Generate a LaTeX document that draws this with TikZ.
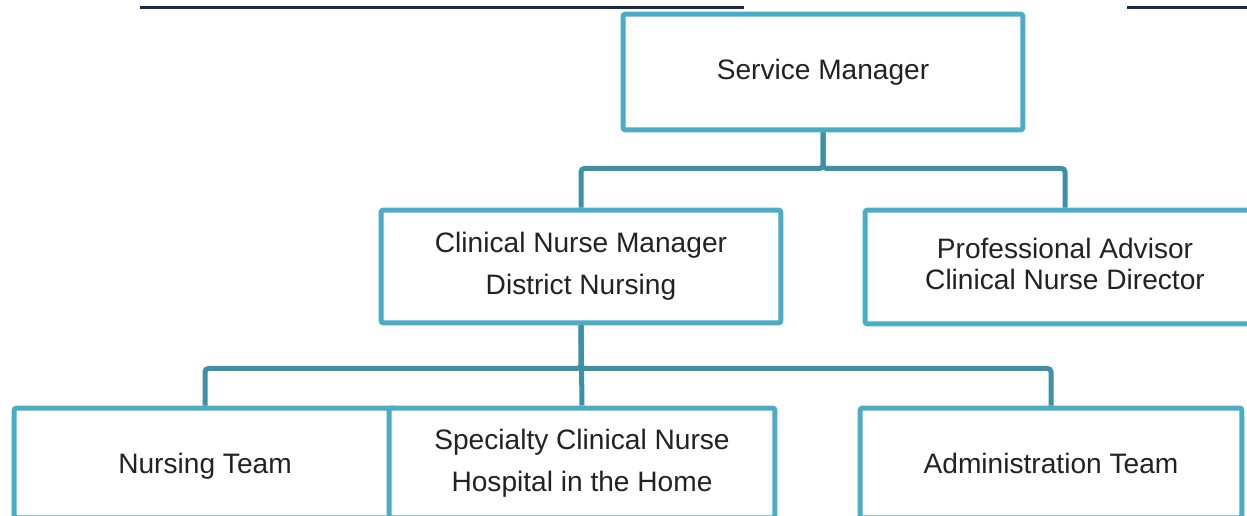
\documentclass[tikz,border=0pt]{standalone}
\usepackage{xcolor}
\usepackage{fontspec}
\setmainfont{Liberation Sans}
\usepackage{tikz}
\definecolor{boxline}{HTML}{4BACC6}
\definecolor{linkline}{HTML}{3F8FA5}
\definecolor{rule}{HTML}{172A4A}
\definecolor{ink}{HTML}{222222}

\begin{document}
\begin{tikzpicture}[x=0.02cm, y=-0.02cm]
\tikzstyle{unit}=[rectangle, draw=boxline, line width=0.1cm, rounded corners=1.5pt, fill=white,
  text=ink, align=center, inner sep=0pt, font=\fontsize{16}{23.8}\selectfont]
\tikzstyle{link}=[draw=linkline, line width=0.1cm, rounded corners=2pt]
\clip (0,0) rectangle (1247,516);

% header rules
\draw[rule, line width=0.06cm] (140,7.5) -- (744,7.5);
\draw[rule, line width=0.06cm] (1127,7.5) -- (1247,7.5);

\node[unit, minimum width=8cm, minimum height=2.32cm] (sm) at (823,72) {Service Manager};
\node[unit, minimum width=8cm, minimum height=2.26cm] (cnm) at (581,266.5) {Clinical Nurse Manager\\District Nursing};
\node[unit, minimum width=8cm, minimum height=2.28cm, font=\fontsize{16}{17.6}\selectfont,
  text depth=3.6pt] (pa) at (1065,267) {Professional Advisor\\Clinical Nurse Director};
% the team boxes overlap, the specialty box sits on top
\node[unit, minimum width=7.64cm, minimum height=2.2cm, text depth=0pt] (nt) at (205,463) {Nursing Team};
\node[unit, minimum width=7.72cm, minimum height=2.2cm] (sc) at (582,463) {Specialty Clinical Nurse\\Hospital in the Home};
\node[unit, minimum width=7.64cm, minimum height=2.2cm] (at) at (1051,463) {Administration Team};

\path[link] (sm.south) -- ++(0,36) -| (cnm.north);
\path[link] (sm.south) -- ++(0,36) -| (pa.north);
\path[link] (cnm.south) -- ++(0,43) -| (nt.north);
\path[link] (cnm.south) -- (sc.north);
\path[link] (cnm.south) -- ++(0,43) -| (at.north);
\end{tikzpicture}
\end{document}
